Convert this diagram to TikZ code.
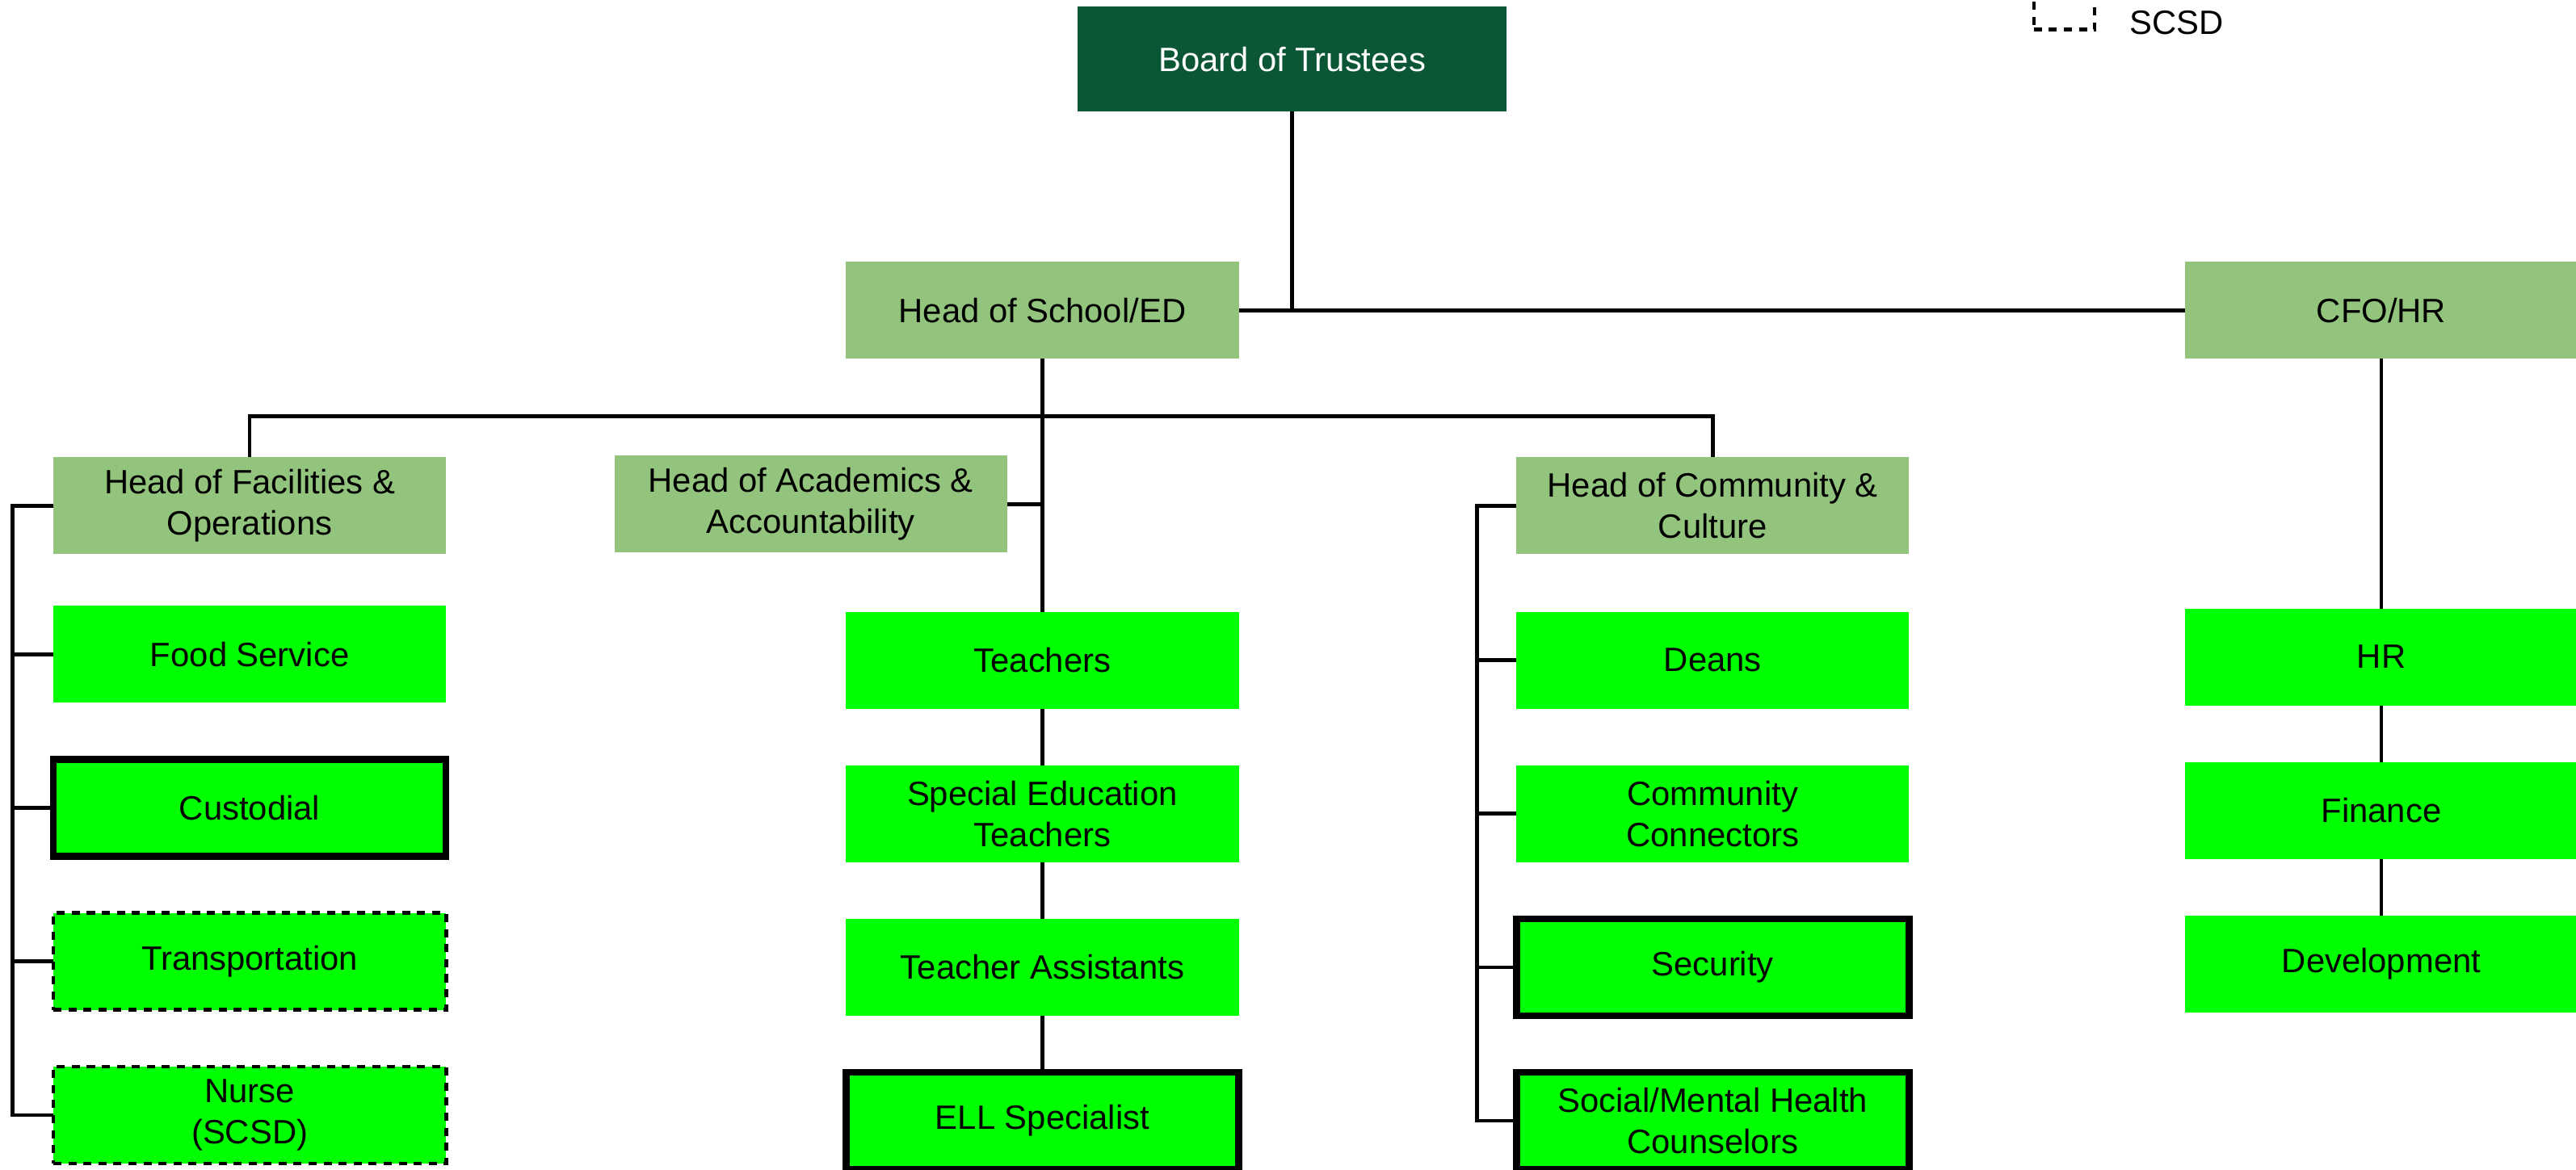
\documentclass[tikz,border=0pt]{standalone}
\usepackage{fontspec}
\setmainfont{Liberation Sans}
\usetikzlibrary{positioning}
\definecolor{boardgreen}{HTML}{0B5634}
\definecolor{headgreen}{HTML}{93C47D}
\definecolor{unitgreen}{HTML}{00FF00}

\begin{document}
\begin{tikzpicture}[
    node distance=0.69cm,
    box/.style={rectangle, outer sep=0pt, minimum width=4.78cm, minimum height=1.18cm,
                align=center, font=\fontsize{11.7}{14.2}\selectfont},
    headbox/.style={box, fill=headgreen},
    unitbox/.style={box, fill=unitgreen},
    firmbox/.style={unitbox, draw=black, line width=2.4pt},
    scsdbox/.style={unitbox, draw=black, line width=1.3pt, dash pattern=on 2.8pt off 2.4pt},
    conn/.style={draw=black, line width=1.3pt}
  ]
  \clip (0,0) rectangle (31.36,-14.24);

  % legend (top right)
  \node[rectangle, draw=black, line width=1.2pt, dash pattern=on 2.8pt off 2.4pt,
        minimum width=0.74cm, minimum height=0.8cm] (legbox) at (25.13,0.04) {};
  \node[anchor=west, font=\fontsize{11.7}{14.2}\selectfont] (legtext) at (25.8,-0.28) {SCSD};

  % top levels
  \node[box, fill=boardgreen, text=white, minimum width=5.22cm, minimum height=1.28cm]
    (board) at (15.73,-0.72) {Board of Trustees};
  \node[headbox] (hos) at (12.69,-3.78) {Head of School/ED};
  \node[headbox] (cfo) at (28.99,-3.78) {CFO/HR};

  % department heads
  \node[headbox] (fac) at (3.04,-6.16) {Head of Facilities \&\\Operations};
  \node[headbox] (acad) at (9.87,-6.14) {Head of Academics \&\\Accountability};
  \node[headbox] (comm) at (20.85,-6.16) {Head of Community \&\\Culture};

  % facilities & operations
  \node[unitbox] (food) at (3.04,-7.97) {Food Service};
  \node[firmbox, below=of food] (cust) {Custodial};
  \node[scsdbox, below=of cust] (trans) {Transportation};
  \node[scsdbox, below=of trans] (nurse) {Nurse\\(SCSD)};

  % academics
  \node[unitbox] (teach) at (12.69,-8.04) {Teachers};
  \node[unitbox, below=of teach] (sped) {Special Education\\Teachers};
  \node[unitbox, below=of sped] (assist) {Teacher Assistants};
  \node[firmbox, below=of assist] (ell) {ELL Specialist};

  % community & culture
  \node[unitbox] (deans) at (20.85,-8.04) {Deans};
  \node[unitbox, below=of deans] (connect) {Community\\Connectors};
  \node[firmbox, below=of connect] (secur) {Security};
  \node[firmbox, below=of secur] (social) {Social/Mental Health\\Counselors};

  % finance
  \node[unitbox] (hr) at (28.99,-8.0) {HR};
  \node[unitbox, below=of hr] (fin) {Finance};
  \node[unitbox, below=of fin] (dev) {Development};

  % connectors
  \draw[conn] (board.south) -- (board.south |- hos.east);
  \draw[conn] (hos.east) -- (cfo.west);
  \draw[conn] (hos.south) -- (teach.north);
  \draw[conn] (fac.north) -- ++(0,0.5) -| (comm.north);
  \draw[conn] (acad.east) -- (acad.east -| hos.south);
  \draw[conn] (teach) -- (sped);
  \draw[conn] (sped) -- (assist);
  \draw[conn] (assist) -- (ell);
  \draw[conn] (fac.west) -- ++(-0.5,0) coordinate (fspine) |- (nurse.west);
  \foreach \n in {food,cust,trans}
    \draw[conn] (fspine) |- (\n.west);
  \draw[conn] (comm.west) -- ++(-0.48,0) coordinate (cspine) |- (social.west);
  \foreach \n in {deans,connect,secur}
    \draw[conn] (cspine) |- (\n.west);
  \draw[conn] (cfo) -- (hr);
  \draw[conn] (hr) -- (fin);
  \draw[conn] (fin) -- (dev);
\end{tikzpicture}
\end{document}
